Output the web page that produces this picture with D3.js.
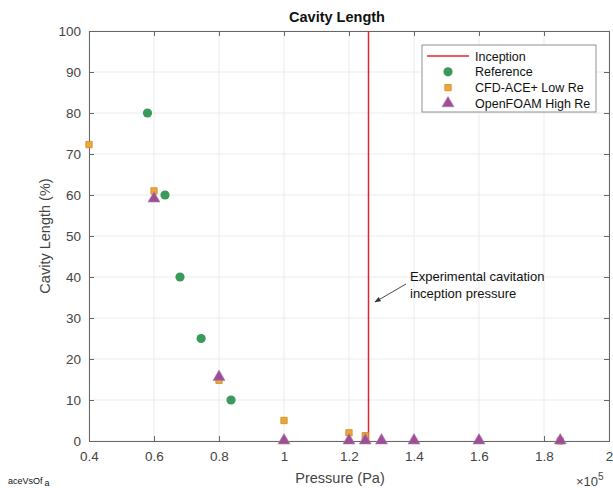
<!DOCTYPE html>
<html>
<head>
<meta charset="utf-8">
<script src="https://cdn.jsdelivr.net/npm/d3@7"></script>
<style>
  body { margin: 0; background: #fff; }
  svg { font-family: "Liberation Sans", Arial, sans-serif; }
</style>
</head>
<body>
<svg width="613" height="488"></svg>
<script>
// pressure values are in units of 1e5 Pa
const inception = 1.26

const refP = [0.58, 0.634, 0.68, 0.745, 0.837]
const refL = [80, 60, 40, 25, 10]

const cfdP = [0.4, 0.6, 0.8, 1.0, 1.2, 1.25, 1.85]
const cfdL = [72.3, 61, 14.8, 5, 2, 1.3, 0]

const ofP = [0.6, 0.8, 1.0, 1.2, 1.25, 1.3, 1.4, 1.6, 1.85]
const ofL = [59, 15.5, 0, 0, 0, 0, 0, 0, 0]

const xTicks = [0.4, 0.6, 0.8, 1, 1.2, 1.4, 1.6, 1.8, 2]
const yTicks = [0, 10, 20, 30, 40, 50, 60, 70, 80, 90, 100]

const legendLabels = ['Inception', 'Reference', 'CFD-ACE+ Low Re', 'OpenFOAM High Re']

const colors = { line: '#e3232b', ref: '#3a9a5a', cfd: '#eba83a', cfdEdge: '#d08a1e', of: '#9c4f95' }

const svg = d3.select('svg')
const m = { left: 89, right: 609, top: 31, bottom: 441 }
const x = d3.scaleLinear().domain([0.4, 2]).range([m.left, m.right])
const y = d3.scaleLinear().domain([0, 100]).range([m.bottom, m.top])

// grid
svg.append('g').selectAll('line').data(xTicks).join('line')
  .attr('x1', d => x(d)).attr('x2', d => x(d)).attr('y1', m.top).attr('y2', m.bottom)
  .attr('stroke', '#ebebeb')
svg.append('g').selectAll('line').data(yTicks).join('line')
  .attr('y1', d => y(d)).attr('y2', d => y(d)).attr('x1', m.left).attr('x2', m.right)
  .attr('stroke', '#ebebeb')

// axes
const axisColor = '#666'
const xa = svg.append('g').attr('transform', `translate(0,${m.bottom})`)
  .call(d3.axisBottom(x).tickValues(xTicks).tickSize(-5).tickPadding(10).tickFormat(d3.format('~g')))
const xt = svg.append('g').attr('transform', `translate(0,${m.top})`)
  .call(d3.axisTop(x).tickValues(xTicks).tickSize(-5).tickFormat(''))
const ya = svg.append('g').attr('transform', `translate(${m.left},0)`)
  .call(d3.axisLeft(y).tickValues(yTicks).tickSize(-5).tickPadding(8))
const yr = svg.append('g').attr('transform', `translate(${m.right},0)`)
  .call(d3.axisRight(y).tickValues(yTicks).tickSize(-5).tickFormat(''))
for (const g of [xa, xt, ya, yr]) {
  g.select('.domain').attr('stroke', axisColor)
  g.selectAll('line').attr('stroke', axisColor)
  g.selectAll('text').attr('fill', '#444').attr('font-size', 13.5)
    .attr('font-family', '"Liberation Sans", Arial, sans-serif')
}

// inception line
svg.append('line')
  .attr('x1', x(inception)).attr('x2', x(inception)).attr('y1', m.top).attr('y2', m.bottom)
  .attr('stroke', colors.line).attr('stroke-width', 1.5)

// markers
const triangle = d3.symbol().type(d3.symbolTriangle).size(62)
const square = d3.symbol().type(d3.symbolSquare).size(40)

svg.append('g').selectAll('circle').data(d3.zip(refP, refL)).join('circle')
  .attr('cx', d => x(d[0])).attr('cy', d => y(d[1])).attr('r', 4.6)
  .attr('fill', colors.ref)

svg.append('g').selectAll('path').data(d3.zip(cfdP, cfdL)).join('path')
  .attr('d', square).attr('transform', d => `translate(${x(d[0])},${y(d[1])})`)
  .attr('fill', colors.cfd).attr('stroke', colors.cfdEdge).attr('stroke-width', 0.8)

svg.append('g').selectAll('path').data(d3.zip(ofP, ofL)).join('path')
  .attr('d', triangle).attr('transform', d => `translate(${x(d[0])},${y(d[1]) - 0.5})`)
  .attr('fill', colors.of).attr('stroke', '#b27bb0').attr('stroke-width', 0.6)

// annotation
svg.append('defs').append('marker')
  .attr('id', 'ah').attr('viewBox', '0 0 10 10').attr('refX', 9).attr('refY', 5)
  .attr('markerWidth', 7).attr('markerHeight', 7).attr('orient', 'auto')
  .append('path').attr('d', 'M0,1 L10,5 L0,9 Z').attr('fill', '#333')
svg.append('line')
  .attr('x1', 406).attr('y1', 284).attr('x2', 375).attr('y2', 302)
  .attr('stroke', '#333').attr('stroke-width', 0.9).attr('marker-end', 'url(#ah)')
svg.append('text').attr('x', 410).attr('y', 281).attr('font-size', 13).attr('fill', '#111')
  .text('Experimental cavitation')
svg.append('text').attr('x', 410).attr('y', 298).attr('font-size', 13).attr('fill', '#111')
  .text('inception pressure')

// titles
svg.append('text').attr('x', 337).attr('y', 22).attr('text-anchor', 'middle')
  .attr('font-size', 14.5).attr('font-weight', 'bold').attr('fill', '#111').text('Cavity Length')
svg.append('text').attr('x', 340).attr('y', 483).attr('text-anchor', 'middle')
  .attr('font-size', 14.5).attr('fill', '#444').text('Pressure (Pa)')
svg.append('text').attr('transform', `translate(50,${(m.top + m.bottom) / 2}) rotate(-90)`)
  .attr('text-anchor', 'middle').attr('font-size', 14.5).attr('fill', '#444').text('Cavity Length (%)')
const e = svg.append('text').attr('x', 576).attr('y', 486).attr('font-size', 13).attr('fill', '#444')
e.append('tspan').text('×10')
e.append('tspan').attr('dy', -6).attr('font-size', 10).text('5')
const fn = svg.append('text').attr('x', 8).attr('y', 484).attr('font-size', 9).attr('fill', '#111')
fn.append('tspan').text('aceVsOf')
fn.append('tspan').attr('dx', 2).attr('dy', 2).text('a')

// legend
const lg = svg.append('g')
lg.append('rect').attr('x', 422).attr('y', 45).attr('width', 174).attr('height', 67)
  .attr('fill', '#fff').attr('stroke', '#777').attr('stroke-width', 0.8)
const rowY = i => 56 + i * 15.8
lg.append('line').attr('x1', 427).attr('x2', 469).attr('y1', rowY(0)).attr('y2', rowY(0))
  .attr('stroke', colors.line).attr('stroke-width', 1.5)
lg.append('circle').attr('cx', 448).attr('cy', rowY(1)).attr('r', 4.6).attr('fill', colors.ref)
lg.append('path').attr('d', square).attr('transform', `translate(448,${rowY(2)})`)
  .attr('fill', colors.cfd).attr('stroke', colors.cfdEdge).attr('stroke-width', 0.8)
lg.append('path').attr('d', triangle).attr('transform', `translate(448,${rowY(3)})`)
  .attr('fill', colors.of).attr('stroke', '#b27bb0').attr('stroke-width', 0.6)
lg.selectAll('text.lab').data(legendLabels).join('text').attr('class', 'lab')
  .attr('x', 475).attr('y', (d, i) => rowY(i) + 4.5).attr('font-size', 12.5).attr('fill', '#111')
  .text(d => d)
</script>
</body>
</html>
